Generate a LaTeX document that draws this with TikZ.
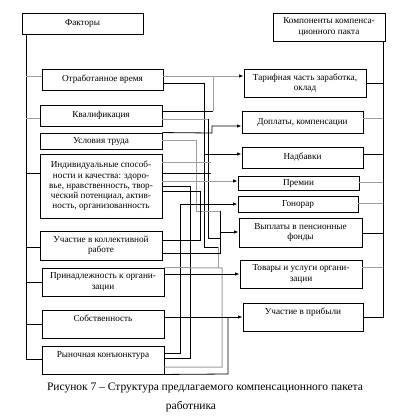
\documentclass[tikz,border=0pt]{standalone}
\usepackage{fontspec}
\setmainfont{Liberation Serif}
\usetikzlibrary{arrows.meta}
\definecolor{wg}{gray}{0.62}
\begin{document}
\begin{tikzpicture}[x=1pt,y=-1pt,
  box/.style={draw, line width=0.9pt, inner sep=0pt, align=center, font=\fontsize{9.2}{10.3}\selectfont},
  wb/.style={line width=0.8pt},
  wgr/.style={draw=wg, line width=1pt},
  arr/.style={-{Latex[length=4.5pt,width=3.5pt,color=black]}},
  upper/.style={text depth=12pt},
  captxt/.style={font=\fontsize{11.5}{13}\selectfont, inner sep=0pt}
]
\useasboundingbox (0,0) rectangle (404,420);

% left column
\node[box, minimum width=121, minimum height=21] (fakt) at (82.5,23.5) {Факторы};
\node[box, minimum width=121, minimum height=21] (otr) at (102.5,79.5) {Отработанное время};
\node[box, minimum width=122, minimum height=21] (kval) at (101,115.5) {Квалификация};
\node[box, minimum width=122, minimum height=16] (usl) at (101,141) {Условия труда};
\node[box, minimum width=122, minimum height=64] (ind) at (101,186) {Индивидуальные способ-\\ности и качества: здоро-\\вье, нравственность, твор-\\ческий потенциал, актив-\\ность, организованность};
\node[box, minimum width=122, minimum height=29] (uch) at (101,245.5) {Участие в коллективной\\работе};
\node[box, minimum width=122, minimum height=28] (prin) at (103,282) {Принадлежность к органи-\\зации};
\node[box, upper, minimum width=122, minimum height=28] (sob) at (103,324) {Собственность};
\node[box, upper, minimum width=122, minimum height=28] (ryn) at (103,360) {Рыночная конъюнктура};

% right column
\node[box, minimum width=112, minimum height=28] (komp) at (329,27) {Компоненты компенса-\\ционного пакта};
\node[box, minimum width=122, minimum height=28] (tarif) at (305,83) {Тарифная часть заработка,\\оклад};
\node[box, minimum width=121, minimum height=22] (dopl) at (302.5,122) {Доплаты, компенсации};
\node[box, minimum width=121, minimum height=21] (nadb) at (302.5,157.5) {Надбавки};
\node[box, minimum width=121, minimum height=14] (prem) at (298.5,183) {Премии};
\node[box, minimum width=120, minimum height=16] (gon) at (298,204) {Гонорар};
\node[box, minimum width=123, minimum height=29] (vypl) at (300.5,232.5) {Выплаты в пенсионные\\фонды};
\node[box, minimum width=122, minimum height=28] (tov) at (301,274) {Товары и услуги органи-\\зации};
\node[box, upper, minimum width=120, minimum height=28] (uchp) at (303,317) {Участие в прибыли};

% left bus
\draw[wb] (fakt.south -| 26,0) -- (26,359) -- (ryn.west |- 0,359);
\draw[wgr] (26,76) -- (otr.west |- 0,76);
\draw[wgr] (26,118) -- (kval.west |- 0,118);
\draw[wb] (26,173) -- (ind.west |- 0,173);
\draw[wb] (26,247) -- (uch.west |- 0,247);
\draw[wb] (26,282) -- (prin.west |- 0,282);
\draw[wb] (26,324) -- (sob.west |- 0,324);

% right bus
\draw[wb] (komp.south -| 383,0) -- (383,317) -- (uchp.east |- 0,317);
\draw[wb] (383,83) -- (tarif.east |- 0,83);
\draw[wgr] (383,118) -- (dopl.east |- 0,118);
\draw[wb] (383,154) -- (nadb.east |- 0,154);
\draw[wgr] (383,182) -- (prem.east |- 0,182);
\draw[wgr] (383,203) -- (gon.east |- 0,203);
\draw[wb] (383,233) -- (vypl.east |- 0,233);
\draw[wgr] (383,267) -- (tov.east |- 0,267);

% middle wiring
\draw[wgr, arr] (otr.east |- 0,76) -- (tarif.west |- 0,76);
\draw[wgr] (213,111) -- (213,76);
\draw[wb] (kval.east |- 0,111) -- (213,111);
\draw[wb] (otr.east |- 0,83) -- (204,83) -- (204,247) -- (218,247);
\draw[wgr] (218,247) -- (218,268);
\draw[wb, arr] (204,154) -- (nadb.west |- 0,154);
\draw[wgr] (kval.east |- 0,119) -- (208,119);
\draw[wb] (208,119) -- (208,238) -- (220,238);
\draw[wb, arr] (usl.north east) -- (212,133) -- (212,126) -- (dopl.west |- 0,126);
\draw[wgr] (usl.east |- 0,140) -- (196,140) -- (196,211) -- (220,211);
\draw[wb] (220,211) -- (220,253) -- (uch.east |- 0,253);
\draw[wb, arr] (220,232) -- (vypl.west |- 0,232);
\draw[wgr] (ind.east |- 0,162) -- (211,162);
\draw[wb] (ind.east |- 0,173) -- (211,173);
\draw[wgr, arr] (ind.east |- 0,181) -- (prem.west |- 0,181);
\draw[wb] (ind.east |- 0,186) -- (190,186) -- (190,358) -- (ryn.east |- 0,358);
\draw[wb] (ind.east |- 0,191) -- (200,191) -- (200,240) -- (uch.east |- 0,240);
\draw[wb, arr] (ryn.east |- 0,353) -- (180,353) -- (180,204) -- (gon.west |- 0,204);
\draw[wgr] (prin.north east) -- (222,268) -- (222,367) -- (ryn.east |- 0,367);
\draw[wb, arr] (prin.east |- 0,274) -- (tov.west |- 0,274);
\draw[wb, arr] (sob.east |- 0,317) -- (uchp.west |- 0,317);
\draw[wb] (ryn.south east) -- (228,374) -- (228,317);

% caption
\node[captxt] (cap1) at (205,388) {Рисунок 7 – Структура предлагаемого компенсационного пакета};
\node[captxt] (cap2) at (191,407) {работника};
\end{tikzpicture}
\end{document}
